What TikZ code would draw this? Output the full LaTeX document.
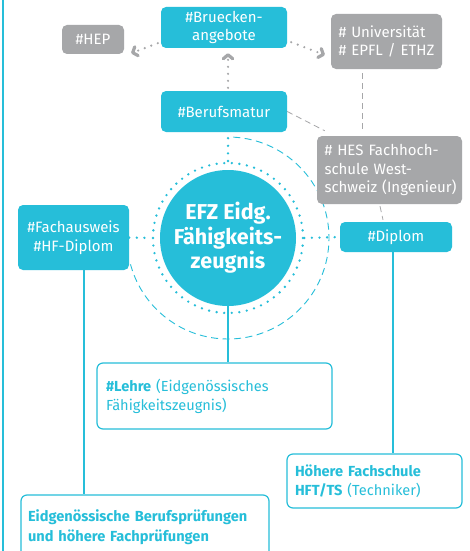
\documentclass[tikz,border=0pt]{standalone}
\usepackage{fontspec}
\setmainfont{Fira Sans}
\usetikzlibrary{arrows.meta,backgrounds,calc}
\definecolor{cy}{RGB}{38,190,217}
\definecolor{gr}{RGB}{166,167,169}
\begin{document}
\begin{tikzpicture}[x=1pt,y=-1pt,
  bx/.style={rounded corners=5pt, inner ysep=0pt, font=\fontsize{15}{18.5}\selectfont},
  cybox/.style={bx, fill=cy, text=white, align=center, inner xsep=0pt},
  grbox/.style={bx, fill=gr, text=white, align=left},
  wbox/.style={bx, draw=cy, line width=1.2pt, fill=white, text=cy, align=left, rounded corners=6pt, font=\fontsize{14.6}{19}\selectfont},
  cydots/.style={draw=cy, line width=2.6pt, line cap=round, dash pattern=on 0pt off 7.6pt},
  grdots/.style={draw=gr, line width=2.4pt, line cap=round, dash pattern=on 0pt off 7pt},
  chev/.style={-{Straight Barb[length=4pt,width=9.5pt,round,line width=3.2pt]}},
  grdash/.style={draw=gr, line width=0.8pt, dash pattern=on 6pt off 4pt},
  cydash/.style={draw=cy, line width=0.9pt, dash pattern=on 7pt off 4.5pt},
  cyline/.style={draw=cy, line width=1.4pt}
]
\useasboundingbox (0,0) rectangle (470,551);

% nodes
\node[cybox, minimum width=126pt, minimum height=41pt] (br) at (224,27.5) {\#Bruecken-\\angebote};
\node[cybox, fill=gr, minimum width=62pt, minimum height=29pt] (hep) at (93,39.5) {\#HEP};
\node[grbox, minimum width=111pt, minimum height=55pt, text width=96pt, inner xsep=7.5pt] (uni) at (386.5,41.5) {\# Universität\\\# EPFL / ETHZ};
\node[cybox, minimum width=126pt, minimum height=41pt] (bm) at (224,111.5) {\#Berufsmatur};
\node[grbox, minimum width=145pt, minimum height=68pt, text width=130pt, inner xsep=7.5pt] (hes) at (389.5,170) {\# HES Fachhoch-\\schule West-\\\mbox{schweiz (Ingenieur)}};
\node[cybox, minimum width=111pt, minimum height=65pt] (fach) at (73.5,237.5) {\#Fachausweis\\\#HF-Diplom};
\node[cybox, minimum width=112pt, minimum height=30pt] (dip) at (396,237) {\#Diplom};
\node[circle, fill=cy, minimum size=136pt, inner sep=0pt, text=white, align=center,
      font=\bfseries\fontsize{21.5}{24.5}\selectfont] (c) at (228,238) {EFZ Eidg.\\Fähigkeits-\\zeugnis};
\node[circle, cydots, minimum size=150pt, inner sep=0pt] (ring) at (228,238) {};
\node[wbox, minimum width=235pt, minimum height=66pt, text width=217pt, inner xsep=9pt] (lehre) at (214.5,396) {\textbf{\#Lehre} (Eidgenössisches\\Fähigkeitszeugnis)};
\node[wbox, minimum width=175pt, minimum height=54pt, text width=159pt, inner xsep=8pt] (hoe) at (374.5,481) {\textbf{Höhere Fachschule}\\\textbf{HFT/TS} (Techniker)};
\node[wbox, minimum width=248pt, minimum height=64pt, text width=234pt, inner xsep=7pt, font=\bfseries\fontsize{14.6}{19.5}\selectfont] (eidg) at (145,527) {\mbox{Eidgenössische Berufsprüfungen}\\und höhere Fachprüfungen};

\coordinate (u1) at ($(uni.south)+(-24.5,0)$);
\coordinate (f1) at ($(fach.south)+(10.5,0)$);
\coordinate (d1) at ($(dip.south)+(-3,0)$);

\begin{scope}[on background layer]
  \fill[white] (0,0) rectangle (470,551);
  \draw[cyline] (3,0) -- (3,551);
  \draw[cydash] (c.center) ++(-87:101) arc[start angle=-87, end angle=166, radius=101];
  \draw[grdash] (bm.east) -- ($(hes.north west)+(8,-5)$);
  \draw[grdash, shorten <=4pt, shorten >=4pt] (u1) -- (u1 |- hes.north);
  \draw[grdash] ($(hes.south)+(-9.5,2)$) -- ($(dip.north)+(-13,-2)$);
  \draw[cyline] (c.south) -- (c.south |- lehre.north);
  \draw[cyline] (f1) -- (f1 |- eidg.north);
  \draw[cyline] (d1) -- (d1 |- hoe.north);
\end{scope}

\draw[cydots, shorten <=6pt] (bm.south -| ring.north) -- (ring.north);
\draw[cydots] (fach.east) -- (ring.west);
\draw[cydots] (ring.east) -- (dip.west);

\draw[grdots, chev, shorten >=5pt, shorten <=3pt] (bm.north -| c.north) -- (br.south -| c.north);
\draw[grdots, chev] ($(br.south west)+(-3,-5)$) -- ($(hep.south east)+(7,-1)$);
\draw[grdots, chev] ($(br.south east)+(4,-6)$) -- ($(uni.west)+(-6,13.5)$);
\end{tikzpicture}
\end{document}
